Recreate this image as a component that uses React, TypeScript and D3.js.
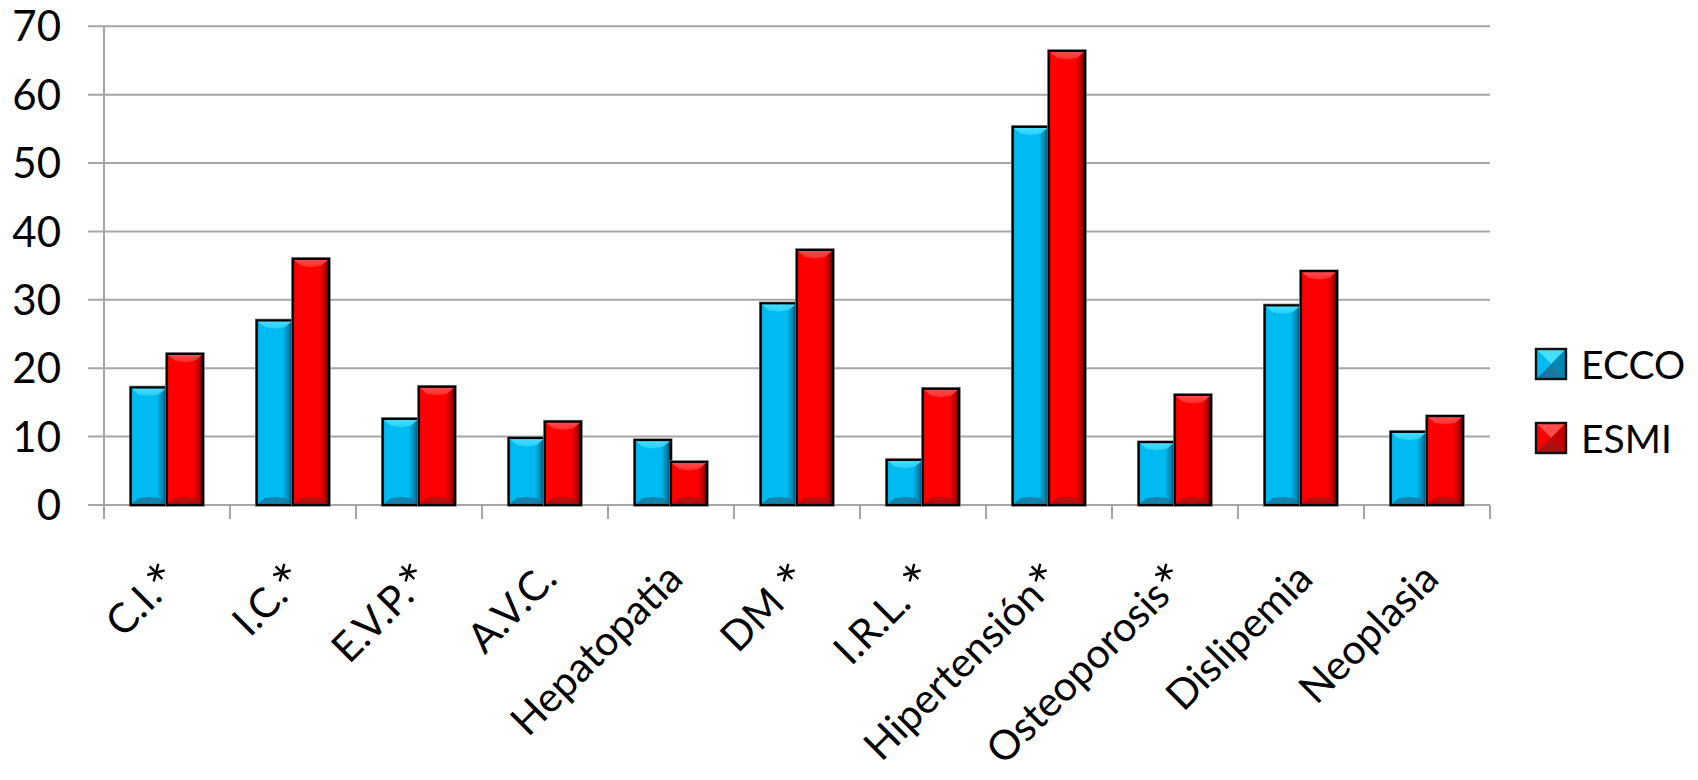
import React from "react";
import * as d3 from "d3";

// Prevalence (%) of comorbidities in two cohorts
const categories = [
  "C.I.*",
  "I.C.*",
  "E.V.P.*",
  "A.V.C.",
  "Hepatopatia",
  "DM *",
  "I.R.L. *",
  "Hipertensión*",
  "Osteoporosis*",
  "Dislipemia",
  "Neoplasia",
];
const seriesNames = ["ECCO", "ESMI"];
const eccoValues = [17.2, 27.0, 12.6, 9.8, 9.5, 29.5, 6.6, 55.3, 9.2, 29.2, 10.7];
const esmiValues = [22.1, 36.0, 17.3, 12.2, 6.3, 37.3, 17.0, 66.4, 16.1, 34.2, 13.0];
const yTicks = [0, 10, 20, 30, 40, 50, 60, 70];

const W = 1698;
const H = 780;
const plot = { left: 104, right: 1490, top: 26.3, bottom: 505 };
const FONT = "Lato, 'Open Sans', sans-serif";

type Palette = {
  id: string;
  edge: string;
  main: string;
  dark: string;
  deep: string;
  light: string;
  shade: string;
};

const palettes: Palette[] = [
  { id: "blue", edge: "#0690BE", main: "#00BAF2", dark: "#0286B2", deep: "#00354F", light: "#45DEFF", shade: "#1A78A0" },
  { id: "red", edge: "#C80000", main: "#FF0000", dark: "#C40000", deep: "#520000", light: "#FF4C4C", shade: "#A81212" },
];

function BevelBar({ x, y, w, h, p }: { x: number; y: number; w: number; h: number; p: Palette }) {
  const b = Math.min(7, h / 2.5);
  const inset = Math.min(8, w / 4);
  const x1 = x + w;
  const y1 = y + h;
  const cx = x + w / 2;
  return (
    <g>
      <rect x={x} y={y} width={w} height={h} fill={`url(#side-${p.id})`} />
      <polygon
        points={`${x + 1},${y + 1} ${x1 - 1},${y + 1} ${x1 - inset},${y + b} ${cx},${y + b + 1.5} ${x + inset},${y + b}`}
        fill={`url(#top-${p.id})`}
      />
      <polygon
        points={`${x + 1},${y1 - 1} ${x1 - 1},${y1 - 1} ${x1 - inset},${y1 - b} ${cx},${y1 - b - 1} ${x + inset},${y1 - b}`}
        fill={p.shade}
        opacity={0.85}
      />
      <rect x={x - 1.2} y={y - 1.2} width={w + 2.4} height={h + 2.4} fill="none" stroke="#8a8a8a" strokeWidth={1} />
      <rect x={x} y={y} width={w} height={h} fill="none" stroke="#000" strokeWidth={2.2} />
    </g>
  );
}

function LegendSwatch({ x, y, s, p }: { x: number; y: number; s: number; p: Palette }) {
  const c = s / 2;
  return (
    <g>
      <rect x={x} y={y} width={s} height={s} fill={p.main} />
      <polygon points={`${x},${y} ${x + s},${y} ${x + c},${y + c}`} fill={p.light} />
      <polygon points={`${x + s},${y} ${x + s},${y + s} ${x + c},${y + c}`} fill={p.dark} />
      <polygon points={`${x},${y + s} ${x + s},${y + s} ${x + c},${y + c}`} fill={p.shade} />
      <polygon points={`${x},${y} ${x},${y + s} ${x + c},${y + c}`} fill={p.main} />
      <rect x={x} y={y} width={s} height={s} fill="none" stroke="#111" strokeWidth={2.4} />
    </g>
  );
}

// Category label with a full-size asterisk mark when present
function CategoryLabel({ label, x, y }: { label: string; x: number; y: number }) {
  const star = label.endsWith("*");
  const body = star ? label.slice(0, -1) : label;
  return (
    <text
      x={x}
      y={y}
      transform={`rotate(-45 ${x} ${y})`}
      textAnchor="end"
      fontFamily={FONT}
      fontSize={41}
      fill="#000"
    >
      {body}
      {star && (
        <tspan fontSize={56} dy="0.17em">
          *
        </tspan>
      )}
    </text>
  );
}

export default function App() {
  const x0 = d3.scaleBand<string>().domain(categories).range([plot.left, plot.right]).padding(0);
  const bw = x0.bandwidth();
  const x1 = d3
    .scaleBand<string>()
    .domain(seriesNames)
    .range([bw * 0.212, bw * 0.786])
    .padding(0);
  const y = d3.scaleLinear().domain([0, 70]).range([plot.bottom, plot.top]);

  const seriesValues = [eccoValues, esmiValues];
  const tickXs = d3.range(categories.length + 1).map((i) => plot.left + i * bw);

  return (
    <svg
      width={W}
      height={H}
      viewBox={`0 0 ${W} ${H}`}
      style={{ position: "absolute", left: 0, top: 0, background: "#fff" }}
    >
      <defs>
        {palettes.map((p) => (
          <React.Fragment key={p.id}>
            <linearGradient id={`side-${p.id}`} x1="0" x2="1" y1="0" y2="0">
              <stop offset="0" stopColor={p.edge} />
              <stop offset="0.07" stopColor={p.main} />
              <stop offset="0.72" stopColor={p.main} />
              <stop offset="0.88" stopColor={p.dark} />
              <stop offset="1" stopColor={p.deep} />
            </linearGradient>
            <linearGradient id={`top-${p.id}`} x1="0" x2="0" y1="0" y2="1">
              <stop offset="0" stopColor={p.light} />
              <stop offset="1" stopColor={p.light} stopOpacity={0.55} />
            </linearGradient>
          </React.Fragment>
        ))}
      </defs>

      {/* horizontal gridlines */}
      {yTicks.map((t) => (
        <line key={t} x1={88} x2={plot.right} y1={y(t)} y2={y(t)} stroke="#a6a6a6" strokeWidth={2} />
      ))}
      {/* y axis */}
      <line x1={plot.left} x2={plot.left} y1={plot.top} y2={plot.bottom + 14} stroke="#a6a6a6" strokeWidth={2} />
      {/* category ticks */}
      {tickXs.map((tx, i) => (
        <line key={i} x1={tx} x2={tx} y1={plot.bottom} y2={plot.bottom + 14} stroke="#a6a6a6" strokeWidth={2} />
      ))}

      {/* y tick labels */}
      {yTicks.map((t) => (
        <text
          key={t}
          x={61}
          y={y(t)}
          dy="0.36em"
          textAnchor="end"
          fontFamily={FONT}
          fontSize={42}
          fill="#000"
        >
          {t}
        </text>
      ))}

      {/* bars */}
      {categories.map((c, i) => (
        <g key={c}>
          {seriesNames.map((s, k) => {
            const v = seriesValues[k][i];
            const bx = (x0(c) ?? 0) + (x1(s) ?? 0);
            const by = y(v);
            return <BevelBar key={s} x={bx} y={by} w={x1.bandwidth()} h={y(0) - by} p={palettes[k]} />;
          })}
        </g>
      ))}

      {/* category labels */}
      {categories.map((c) => (
        <CategoryLabel key={c} label={c} x={(x0(c) ?? 0) + bw / 2 + 14} y={plot.bottom + 76} />
      ))}

      {/* legend */}
      {seriesNames.map((s, k) => {
        const ly = 349 + k * 74;
        return (
          <g key={s}>
            <LegendSwatch x={1536} y={ly} s={30} p={palettes[k]} />
            <text x={1581} y={ly + 29.5} fontFamily={FONT} fontSize={39} fill="#000">
              {s}
            </text>
          </g>
        );
      })}
    </svg>
  );
}
